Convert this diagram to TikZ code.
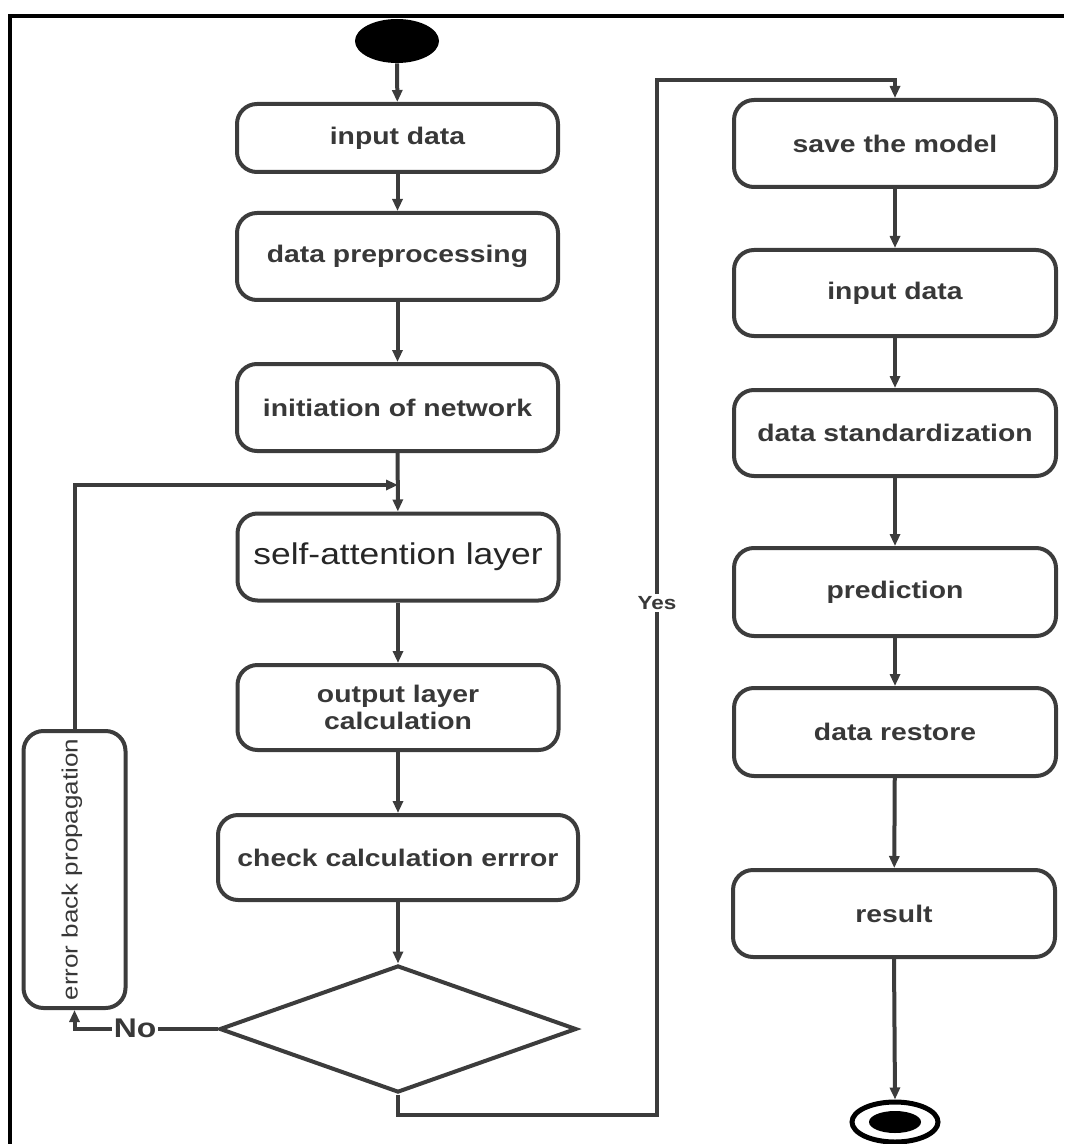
\documentclass[tikz,border=0pt]{standalone}
\usepackage{fontspec}
\setmainfont{Liberation Sans}[FakeStretch=1.18]
\newfontfamily\plainsans{Liberation Sans}
\usetikzlibrary{arrows.meta,shapes.geometric}

\definecolor{linec}{HTML}{3C3C3C}
\definecolor{txtc}{HTML}{383838}

\begin{document}
\begin{tikzpicture}[x=0.5pt,y=-0.5pt,
  box/.style={draw=linec, line width=2pt, rounded corners=10pt, fill=white,
    inner sep=0pt, align=center, text=txtc,
    font=\fontsize{12pt}{13.5pt}\selectfont\bfseries},
  arr/.style={draw=linec, line width=2pt, -{Triangle[length=6pt,width=5pt]}},
  lbl/.style={fill=white, inner sep=1pt, text=txtc}
]
\useasboundingbox (0,0) rectangle (1064,1144);

% frame edges
\draw[black, line width=2pt] (10,1144) -- (10,16) -- (1064,16);

% start / end
\node[ellipse, fill=black, minimum width=42pt, minimum height=22pt, inner sep=0pt] (start) at (397,41) {};
\node[ellipse, draw=black, line width=2.5pt, minimum width=43pt, minimum height=20pt, inner sep=0pt] (stop) at (895,1122) {};
\node[ellipse, fill=black, minimum width=26pt, minimum height=11pt, inner sep=0pt] (stopdot) at (895,1122) {};

% training column
\node[box, minimum width=160.5pt, minimum height=34pt] (b1) at (397.5,138) {input data};
\node[box, minimum width=160.5pt, minimum height=43.5pt] (b2) at (397.5,256.5) {data preprocessing};
\node[box, minimum width=160.5pt, minimum height=43.5pt] (b3) at (397.5,407.5) {initiation of network};
\node[box, minimum width=160.5pt, minimum height=43.5pt, text=black!85,
  font=\fontsize{15pt}{17pt}\selectfont] (b4) at (398,557) {self-attention layer};
\node[box, minimum width=160.5pt, minimum height=42.5pt] (b5) at (398,707.5) {output layer\\calculation};
\node[box, minimum width=180pt, minimum height=42.5pt] (b6) at (398,857.5) {check calculation errror};
\node[diamond, draw=linec, line width=2pt, fill=white, inner sep=0pt,
  minimum width=178.5pt, minimum height=63.5pt] (dia) at (398,1029) {};

% back propagation
\node[box, minimum width=51pt, minimum height=138.5pt] (err) at (74.5,869.5) {};
\node[rotate=90, yscale=0.85, transform shape, text=txtc, inner sep=0pt,
  font=\plainsans\fontsize{13pt}{15pt}\selectfont] (errtxt) at (72,869.5) {error back propagation};

% prediction column
\node[box, minimum width=161pt, minimum height=43.5pt] (r1) at (895,143.5) {save the model};
\node[box, minimum width=161pt, minimum height=43pt] (r2) at (895,293) {input data};
\node[box, minimum width=161pt, minimum height=43pt] (r3) at (895,433) {data standardization};
\node[box, minimum width=161pt, minimum height=44pt] (r4) at (895,592) {prediction};
\node[box, minimum width=161pt, minimum height=44pt] (r5) at (895,732) {data restore};
\node[box, minimum width=161pt, minimum height=43.5pt] (r6) at (894,913.5) {result};

% helper points
\coordinate (merge) at (398,485);
\coordinate (ybot) at (657,1115);
\coordinate (ytop) at (657,80);

% connectors
\draw[arr] (start) -- (b1);
\draw[arr] (b1) -- (b2);
\draw[arr] (b2) -- (b3);
\draw[arr] (b3) -- (b4);
\draw[arr] (b4) -- (b5);
\draw[arr] (b5) -- (b6);
\draw[arr] (b6) -- (dia);
\draw[arr] (err.north) |- (merge);
\draw[arr] (dia.west) -| (err.south);
\draw[arr] (dia.south) |- (ybot) -- (ytop) -| (r1.north);
\draw[arr] (r1) -- (r2);
\draw[arr] (r2) -- (r3);
\draw[arr] (r3) -- (r4);
\draw[arr] (r4) -- (r5);
\draw[arr] (r5) -- (r6);
\draw[arr] (r6.south) -- (stop.north);

% branch labels
\node[lbl, font=\fontsize{13.5pt}{15pt}\selectfont\bfseries] (nolbl) at (135,1028) {No};
\node[lbl, font=\fontsize{9.5pt}{11pt}\selectfont\bfseries] (yeslbl) at (657,603) {Yes};
\end{tikzpicture}
\end{document}
